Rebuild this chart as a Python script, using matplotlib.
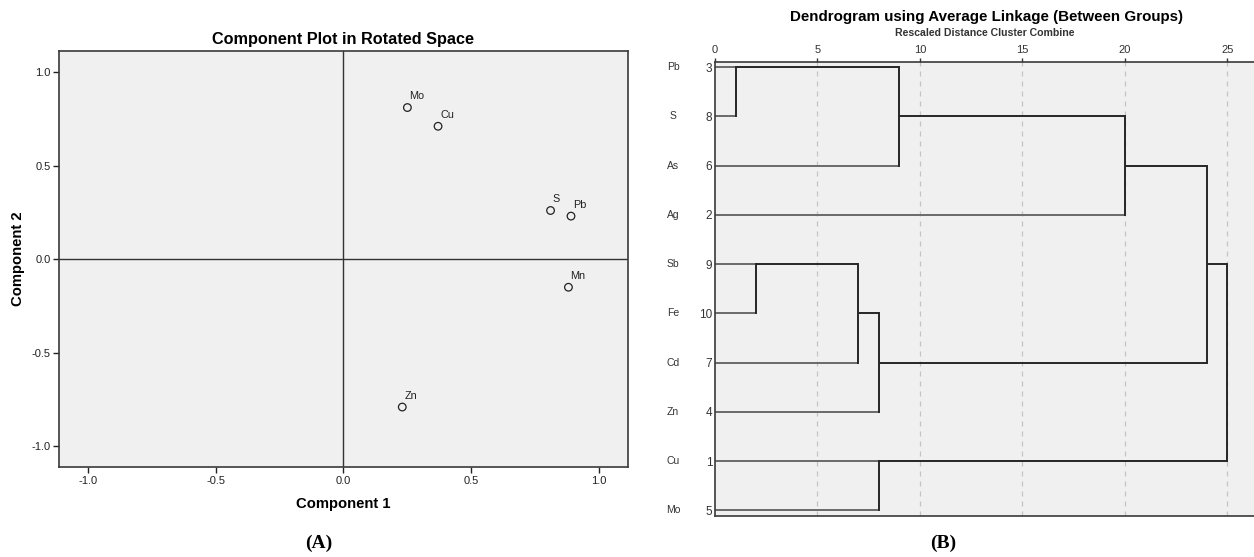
import numpy as np
import matplotlib
matplotlib.use("Agg")
import matplotlib.pyplot as plt

plt.rcParams['font.family'] = ['Liberation Sans', 'DejaVu Sans']

# ---------------- data ----------------
# Panel A: component loadings (rotated space)
elements = ['Mo', 'Cu', 'S', 'Pb', 'Mn', 'Zn']
comp1 = [0.25, 0.37, 0.81, 0.89, 0.88, 0.23]
comp2 = [0.81, 0.71, 0.26, 0.23, -0.15, -0.79]
ab_ticks = [-1.0, -0.5, 0.0, 0.5, 1.0]

# Panel B: dendrogram (average linkage), leaves in display order
leaf_labels = ['Pb', 'S', 'As', 'Ag', 'Sb', 'Fe', 'Cd', 'Zn', 'Cu', 'Mo']
case_numbers = [3, 8, 6, 2, 9, 10, 7, 4, 1, 5]
# merges: (cluster a, cluster b, rescaled distance); new clusters numbered 10, 11, ...
merge_a = [0, 4, 11, 12, 8, 10, 15, 16, 17]
merge_b = [1, 5, 6, 7, 9, 2, 3, 13, 14]
merge_dist = [1, 2, 7, 8, 8, 9, 20, 24, 25]
dist_ticks = [0, 5, 10, 15, 20, 25]

BG = '#f0f0f0'
SPINE = '#3a3a3a'

fig = plt.figure(figsize=(12.54, 5.57), dpi=100)

# ---------------- Panel A ----------------
axA = fig.add_axes([0.0472, 0.161, 0.4534, 0.7474])
axA.set_facecolor(BG)
axA.set_xlim(-1.112, 1.112)
axA.set_ylim(-1.112, 1.112)
axA.axvline(0, color='#333333', lw=1.0, zorder=1)
axA.axhline(0, color='#333333', lw=1.0, zorder=1)
axA.scatter(comp1, comp2, s=30, facecolors='none', edgecolors='#222222',
            linewidths=0.9, zorder=3)
for name, x, y in zip(elements, comp1, comp2):
    axA.annotate(name, (x, y), xytext=(1.5, 4.5), textcoords='offset points',
                 ha='left', va='bottom', fontsize=7.8, color='#222222')
axA.set_xticks(ab_ticks)
axA.set_yticks(ab_ticks)
axA.set_xticklabels([f'{t:.1f}' for t in ab_ticks])
axA.set_yticklabels([f'{t:.1f}' for t in ab_ticks])
axA.tick_params(direction='out', length=4, width=1, labelsize=8,
                colors='#222222', pad=2)
for sp in axA.spines.values():
    sp.set_color(SPINE)
    sp.set_linewidth(1.2)
axA.set_title('Component Plot in Rotated Space', fontsize=11.7,
              fontweight='bold', pad=5)
axA.set_xlabel('Component 1', fontsize=10.7, fontweight='bold', labelpad=8)
axA.set_ylabel('Component 2', fontsize=10.7, fontweight='bold', labelpad=5)

# ---------------- Panel B ----------------
axB = fig.add_axes([0.5702, 0.0741, 0.4298, 0.814])
axB.set_facecolor(BG)
n = len(leaf_labels)
axB.set_xlim(0, 26.3)
axB.set_ylim(n - 1 + 0.11, -0.1)
for t in dist_ticks[1:]:
    axB.axvline(t, color='#c4c4c4', lw=0.9, ls=(0, (4, 4)), zorder=1)

row = {i: i for i in range(n)}
height = {i: 0 for i in range(n)}
leaf_col = '#6a6a6a'
clus_col = '#262626'
for k, (a, b, d) in enumerate(zip(merge_a, merge_b, merge_dist)):
    for c in (a, b):
        col = leaf_col if c < n else clus_col
        axB.plot([height[c], d], [row[c], row[c]], color=col, lw=1.4,
                 solid_capstyle='butt', zorder=2)
    axB.plot([d, d], [row[a], row[b]], color=clus_col, lw=1.4,
             solid_capstyle='projecting', zorder=2)
    new = n + k
    row[new] = int(np.floor((row[a] + row[b]) / 2))
    height[new] = d

axB.xaxis.tick_top()
axB.set_xticks(dist_ticks)
axB.set_xticklabels([str(t) for t in dist_ticks])
axB.tick_params(axis='x', direction='out', length=3, width=1, labelsize=8,
                colors='#333333', pad=2)
axB.set_yticks(range(n))
axB.set_yticklabels([str(c) for c in case_numbers])
axB.tick_params(axis='y', length=0, labelsize=8.5, colors='#333333', pad=2)
for i, lab in enumerate(leaf_labels):
    axB.annotate(lab, (0, i), xytext=(-42, 0), textcoords='offset pixels',
                 xycoords=('axes fraction', 'data'), ha='center', va='center',
                 fontsize=7.5, color='#333333')
axB.spines['right'].set_visible(False)
for s in ('left', 'top', 'bottom'):
    axB.spines[s].set_color(SPINE)
    axB.spines[s].set_linewidth(1.2)

fig.text(0.7863, 0.969, 'Dendrogram using Average Linkage (Between Groups)',
         ha='center', va='center', fontsize=10.9, fontweight='bold')
fig.text(0.7855, 0.940, 'Rescaled Distance Cluster Combine', ha='center',
         va='center', fontsize=7.6, fontweight='bold', color='#333333')

# Panel letters
fig.text(0.2545, 0.025, '(A)', ha='center', va='center', fontsize=14,
         fontweight='bold', family=['Liberation Serif', 'DejaVu Serif'])
fig.text(0.7525, 0.025, '(B)', ha='center', va='center', fontsize=14,
         fontweight='bold', family=['Liberation Serif', 'DejaVu Serif'])

fig.savefig('out.png', dpi=100, facecolor='white')
